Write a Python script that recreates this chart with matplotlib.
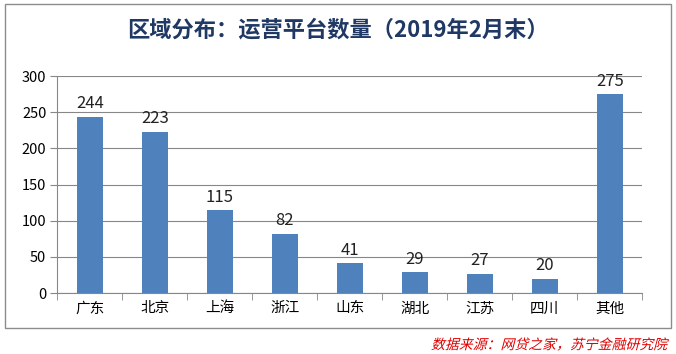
import matplotlib.pyplot as plt
from matplotlib.patches import Rectangle, PathPatch
from matplotlib.textpath import TextPath
from matplotlib.font_manager import FontProperties
from matplotlib.transforms import Affine2D
import numpy as np

plt.rcParams['font.family'] = ['Noto Sans CJK SC', 'DejaVu Sans']

regions = ['广东', '北京', '上海', '浙江', '山东', '湖北', '江苏', '四川', '其他']
counts = [244, 223, 115, 82, 41, 29, 27, 20, 275]
yticks = [0, 50, 100, 150, 200, 250, 300]

W, H = 676, 354
fig = plt.figure(figsize=(W / 100, H / 100), dpi=100)
ax = fig.add_axes([0.085, 0.172, 0.865, 0.613])

x = np.arange(len(regions))
bars = ax.bar(x, counts, width=0.4, color='#4F81BD', zorder=3)
for b, v in zip(bars, counts):
    ax.text(b.get_x() + b.get_width() / 2, v + 6, str(v), ha='center', va='bottom',
            fontsize=12, color='#222222')

ax.set_xlim(-0.5, len(regions) - 0.5)
ax.set_ylim(0, 300)
ax.set_yticks(yticks)
ax.yaxis.grid(True, color='#878787', linewidth=0.8, zorder=0)
ax.tick_params(axis='y', length=5, color='#878787', labelsize=10.5, pad=3)
ax.set_xticks(x)
ax.set_xticklabels(regions, fontsize=10.5)
ax.tick_params(axis='x', length=0, pad=6)
ax.set_xticks(np.arange(len(regions) + 1) - 0.5, minor=True)
ax.tick_params(axis='x', which='minor', length=5, color='#878787')
for s in ['top', 'right']:
    ax.spines[s].set_visible(False)
for s in ['left', 'bottom']:
    ax.spines[s].set_color('#878787')

fig.patches.append(Rectangle((5 / W, 1 - 328 / H), 666 / W, 324 / H,
                             transform=fig.transFigure, fill=False,
                             edgecolor='#8c8c8c', linewidth=1))
fig.text(0.5, 1 - 30 / H, '区域分布：运营平台数量（2019年2月末）', ha='center', va='center',
         fontsize=16, fontweight='bold', color='#1F3864')

# source note, slanted like the original (CJK fonts have no italic)
src = '数据来源：网贷之家，苏宁金融研究院'
tp = TextPath((0, 0), src, size=10, prop=FontProperties(family='Noto Sans CJK SC'))
ext = tp.get_extents()
tr = (Affine2D().translate(-ext.x1, -(ext.y0 + ext.y1) / 2).skew_deg(15, 0)
      .scale(100 / 72).translate(668, H - 344))
fig.patches.append(PathPatch(tp, transform=tr, facecolor='#e00000', edgecolor='none'))

fig.savefig('out.png', dpi=100)
